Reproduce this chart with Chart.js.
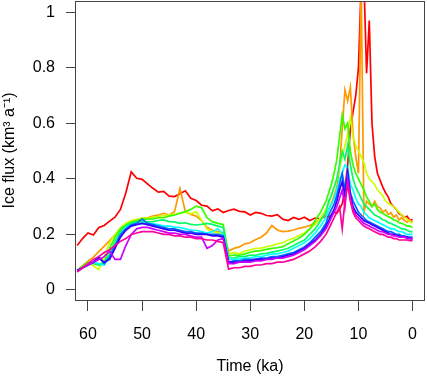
<!DOCTYPE html>
<html>
<head>
<meta charset="utf-8">
<script src="https://cdn.jsdelivr.net/npm/chart.js@4"></script>
<style>
  html, body { margin: 0; padding: 0; background: #fff; }
  #wrap { width: 427px; height: 376px; }
</style>
</head>
<body>
<div id="wrap"><canvas id="chart" width="427" height="376"></canvas></div>
<script>
// time axis (ka before present)
const years = [62, 61, 60, 59, 58, 57, 56, 55, 54, 53,
  52, 51, 50, 49, 48, 47, 46, 45, 44, 43,
  42, 41, 40, 39, 38, 37, 36, 35, 34, 33,
  32, 31, 30, 29, 28, 27, 26, 25, 24, 23,
  22, 21, 20, 19, 18, 17, 16,
  15.5, 15, 14.5, 14, 13.5, 13, 12.5, 12, 11.5, 11,
  10.5, 10, 9.5, 9, 8.5, 8, 7.5, 7, 6.5, 6,
  5.5, 5, 4.5, 4, 3.5, 3, 2.5, 2, 1.5, 1,
  0.5, 0];

const fluxRed = [0.16, 0.185, 0.205, 0.198, 0.225, 0.232, 0.248, 0.262, 0.29, 0.35,
  0.425, 0.402, 0.398, 0.382, 0.366, 0.352, 0.355, 0.338, 0.336, 0.346,
  0.357, 0.33, 0.322, 0.305, 0.302, 0.285, 0.292, 0.279, 0.286, 0.291,
  0.283, 0.281, 0.27, 0.279, 0.276, 0.268, 0.266, 0.271, 0.255, 0.25,
  0.261, 0.254, 0.262, 0.25, 0.259, 0.256, 0.266,
  0.262, 0.27, 0.281, 0.276, 0.29, 0.31, 0.36, 0.45, 0.58, 0.64,
  0.7, 0.8, 1.1, 1.12, 0.78, 0.97, 0.6, 0.48, 0.42, 0.395,
  0.37, 0.35, 0.335, 0.31, 0.3, 0.29, 0.275, 0.27, 0.262, 0.265,
  0.25, 0.255];

const fluxOrange = [0.07, 0.088, 0.104, 0.118, 0.138, 0.158, 0.178, 0.198, 0.214, 0.228,
  0.24, 0.248, 0.256, 0.26, 0.266, 0.27, 0.276, 0.27, 0.282, 0.365,
  0.282, 0.272, 0.266, 0.25, 0.226, 0.215, 0.21, 0.205, 0.14, 0.15,
  0.155, 0.166, 0.17, 0.182, 0.19, 0.205, 0.232, 0.216, 0.21, 0.212,
  0.216, 0.222, 0.226, 0.232, 0.242, 0.256, 0.27,
  0.29, 0.31, 0.34, 0.37, 0.44, 0.58, 0.72, 0.68, 0.73, 0.56,
  0.48, 0.42, 1.1, 0.28, 0.32, 0.31, 0.3, 0.32, 0.3, 0.295,
  0.28, 0.288, 0.272, 0.278, 0.262, 0.27, 0.252, 0.26, 0.25, 0.244,
  0.252, 0.245];

const fluxYellow = [0.07, 0.085, 0.098, 0.086, 0.074, 0.12, 0.17, 0.2, 0.224, 0.24,
  0.25, 0.254, 0.26, 0.258, 0.262, 0.264, 0.268, 0.27, 0.272, 0.276,
  0.28, 0.274, 0.282, 0.25, 0.22, 0.21, 0.206, 0.2, 0.13, 0.135,
  0.13, 0.14, 0.145, 0.15, 0.15, 0.156, 0.16, 0.166, 0.17, 0.18,
  0.186, 0.196, 0.205, 0.22, 0.236, 0.26, 0.29,
  0.31, 0.34, 0.37, 0.4, 0.44, 0.48, 0.52, 0.56, 0.62, 0.55,
  0.52, 0.5, 0.48, 0.46, 0.42, 0.4, 0.39, 0.38, 0.36, 0.35,
  0.34, 0.32, 0.312, 0.306, 0.3, 0.29, 0.28, 0.27, 0.262, 0.255,
  0.246, 0.24];

const fluxGreen = [0.07, 0.085, 0.1, 0.095, 0.09, 0.1, 0.15, 0.19, 0.22, 0.234,
  0.244, 0.25, 0.254, 0.255, 0.256, 0.26, 0.26, 0.266, 0.27, 0.276,
  0.282, 0.29, 0.302, 0.296, 0.26, 0.246, 0.24, 0.236, 0.122, 0.126,
  0.125, 0.13, 0.136, 0.14, 0.142, 0.146, 0.15, 0.152, 0.156, 0.166,
  0.176, 0.186, 0.2, 0.22, 0.25, 0.28, 0.32,
  0.35, 0.38, 0.42, 0.47, 0.55, 0.63, 0.58, 0.6, 0.5, 0.45,
  0.42, 0.4, 0.38, 0.36, 0.335, 0.32, 0.3, 0.31, 0.29, 0.28,
  0.276, 0.27, 0.264, 0.26, 0.252, 0.25, 0.242, 0.24, 0.236, 0.23,
  0.23, 0.225];

const fluxSpring = [0.07, 0.08, 0.094, 0.1, 0.09, 0.095, 0.13, 0.175, 0.21, 0.23,
  0.24, 0.244, 0.246, 0.245, 0.246, 0.25, 0.252, 0.246, 0.245, 0.24,
  0.242, 0.236, 0.234, 0.236, 0.24, 0.236, 0.23, 0.225, 0.115, 0.116,
  0.12, 0.12, 0.126, 0.125, 0.13, 0.132, 0.136, 0.14, 0.145, 0.15,
  0.16, 0.17, 0.18, 0.2, 0.22, 0.25, 0.28,
  0.32, 0.34, 0.37, 0.4, 0.45, 0.5, 0.47, 0.52, 0.45, 0.4,
  0.37, 0.35, 0.33, 0.31, 0.3, 0.29, 0.28, 0.27, 0.265, 0.26,
  0.252, 0.25, 0.242, 0.24, 0.235, 0.23, 0.226, 0.22, 0.22, 0.215,
  0.21, 0.21];

const fluxCyan = [0.07, 0.08, 0.09, 0.1, 0.095, 0.09, 0.12, 0.16, 0.2, 0.225,
  0.235, 0.24, 0.24, 0.24, 0.238, 0.235, 0.23, 0.23, 0.226, 0.225,
  0.22, 0.216, 0.215, 0.21, 0.205, 0.21, 0.22, 0.2, 0.11, 0.11,
  0.112, 0.115, 0.116, 0.12, 0.12, 0.125, 0.13, 0.13, 0.135, 0.14,
  0.15, 0.16, 0.17, 0.185, 0.205, 0.23, 0.26,
  0.29, 0.31, 0.33, 0.36, 0.4, 0.42, 0.45, 0.44, 0.38, 0.36,
  0.33, 0.31, 0.3, 0.28, 0.27, 0.26, 0.255, 0.25, 0.245, 0.24,
  0.235, 0.23, 0.225, 0.22, 0.22, 0.215, 0.21, 0.21, 0.205, 0.2,
  0.2, 0.2];

const fluxBlue = [0.07, 0.08, 0.09, 0.1, 0.12, 0.095, 0.12, 0.16, 0.2, 0.22,
  0.235, 0.24, 0.255, 0.24, 0.235, 0.23, 0.225, 0.22, 0.22, 0.215,
  0.21, 0.21, 0.205, 0.205, 0.2, 0.2, 0.2, 0.195, 0.1, 0.105,
  0.105, 0.11, 0.11, 0.11, 0.115, 0.115, 0.12, 0.12, 0.125, 0.13,
  0.135, 0.145, 0.155, 0.17, 0.19, 0.21, 0.24,
  0.27, 0.29, 0.31, 0.34, 0.38, 0.42, 0.36, 0.43, 0.35, 0.32,
  0.3, 0.28, 0.27, 0.26, 0.25, 0.245, 0.24, 0.235, 0.23, 0.225,
  0.22, 0.215, 0.21, 0.21, 0.205, 0.2, 0.2, 0.195, 0.195, 0.19,
  0.19, 0.19];

const fluxIndigo = [0.07, 0.08, 0.09, 0.1, 0.115, 0.1, 0.11, 0.15, 0.19, 0.215,
  0.23, 0.235, 0.24, 0.235, 0.23, 0.225, 0.22, 0.215, 0.215, 0.21,
  0.205, 0.205, 0.2, 0.2, 0.2, 0.195, 0.195, 0.19, 0.1, 0.1,
  0.1, 0.105, 0.105, 0.11, 0.11, 0.11, 0.115, 0.115, 0.12, 0.125,
  0.13, 0.14, 0.15, 0.165, 0.18, 0.2, 0.23,
  0.25, 0.27, 0.29, 0.32, 0.36, 0.39, 0.34, 0.42, 0.34, 0.3,
  0.28, 0.27, 0.26, 0.25, 0.245, 0.24, 0.235, 0.23, 0.225, 0.22,
  0.215, 0.21, 0.205, 0.2, 0.2, 0.195, 0.195, 0.19, 0.19, 0.19,
  0.185, 0.185];

const fluxPurple = [0.065, 0.08, 0.09, 0.1, 0.11, 0.12, 0.14, 0.11, 0.11, 0.16,
  0.2, 0.22, 0.225, 0.225, 0.22, 0.215, 0.21, 0.205, 0.205, 0.2,
  0.2, 0.195, 0.19, 0.19, 0.15, 0.16, 0.18, 0.185, 0.095, 0.095,
  0.1, 0.1, 0.1, 0.105, 0.105, 0.11, 0.11, 0.115, 0.115, 0.12,
  0.125, 0.135, 0.145, 0.16, 0.175, 0.195, 0.22,
  0.24, 0.26, 0.28, 0.3, 0.33, 0.36, 0.3, 0.4, 0.33, 0.29,
  0.27, 0.26, 0.25, 0.24, 0.235, 0.23, 0.225, 0.22, 0.215, 0.21,
  0.21, 0.205, 0.2, 0.2, 0.195, 0.195, 0.19, 0.19, 0.19, 0.185,
  0.185, 0.185];

const fluxPink = [0.065, 0.08, 0.095, 0.11, 0.12, 0.135, 0.145, 0.16, 0.175, 0.185,
  0.2, 0.205, 0.21, 0.21, 0.21, 0.205, 0.2, 0.2, 0.195, 0.195,
  0.19, 0.19, 0.185, 0.185, 0.18, 0.18, 0.175, 0.17, 0.075, 0.08,
  0.08, 0.085, 0.085, 0.09, 0.09, 0.095, 0.095, 0.1, 0.1, 0.105,
  0.11, 0.12, 0.13, 0.14, 0.155, 0.175, 0.2,
  0.22, 0.24, 0.26, 0.28, 0.3, 0.22, 0.32, 0.38, 0.32, 0.28,
  0.26, 0.25, 0.24, 0.23, 0.225, 0.22, 0.215, 0.21, 0.205, 0.2,
  0.2, 0.195, 0.19, 0.19, 0.185, 0.185, 0.18, 0.18, 0.18, 0.18,
  0.178, 0.178];

const runs = [fluxRed, fluxOrange, fluxYellow, fluxGreen, fluxSpring,
  fluxCyan, fluxBlue, fluxIndigo, fluxPurple, fluxPink];
const colours = ['#FF0000', '#FF9900', '#CCFF00', '#33FF00', '#00FF66',
  '#00FFFF', '#0066FF', '#3300FF', '#CC00FF', '#FF0099'];

const yTicks = [0, 0.2, 0.4, 0.6, 0.8, 1];
const xTicks = [60, 50, 40, 30, 20, 10, 0];

const font = { family: '"Liberation Sans", Arial, Helvetica, sans-serif', size: 16 };

// R-style box round the plot region
const boxPlugin = {
  id: 'box',
  afterDatasetsDraw(chart) {
    const { ctx, chartArea: a } = chart;
    ctx.save();
    ctx.strokeStyle = '#444';
    ctx.lineWidth = 1;
    ctx.strokeRect(a.left + 0.5, a.top + 0.5, a.right - a.left - 1, a.bottom - a.top);
    ctx.restore();
  }
};

const datasets = runs.map((vals, i) => ({
  data: years.map((t, j) => ({ x: t, y: vals[j] })),
  borderColor: colours[i],
  borderWidth: 1.7,
  pointRadius: 0,
  fill: false,
  tension: 0,
  order: runs.length - 1 - i
}));

new Chart(document.getElementById('chart'), {
  type: 'line',
  data: { datasets },
  options: {
    responsive: false,
    animation: false,
    parsing: false,
    layout: { padding: { top: 1, right: 2, left: 0, bottom: 0 } },
    plugins: { legend: { display: false }, tooltip: { enabled: false } },
    scales: {
      x: {
        type: 'linear',
        reverse: true,
        min: -2.3,
        max: 62.4,
        afterBuildTicks: (s) => { s.ticks = xTicks.map(v => ({ value: v })); },
        afterFit: (s) => { s.height = 76; s.paddingLeft = 0; s.paddingRight = 0; },
        grid: { drawOnChartArea: false, tickLength: 11, color: '#444' },
        border: { display: false },
        ticks: { font, color: '#000', padding: 14, maxRotation: 0,
          callback: (v) => String(v) },
        title: { display: true, text: 'Time (ka)', font, color: '#000', padding: 0 }
      },
      y: {
        min: -0.036,
        max: 1.04,
        afterBuildTicks: (s) => { s.ticks = yTicks.map(v => ({ value: v })); },
        afterFit: (s) => { s.width = 75; s.paddingTop = 0; s.paddingBottom = 0; },
        grid: { drawOnChartArea: false, tickLength: 9, color: '#444' },
        border: { display: false },
        ticks: { font, color: '#000', padding: 11, callback: (v) => String(v) },
        title: { display: true, text: 'Ice flux (km³ a⁻¹)', font, color: '#000', padding: 0 }
      }
    }
  },
  plugins: [boxPlugin]
});
</script>
</body>
</html>
